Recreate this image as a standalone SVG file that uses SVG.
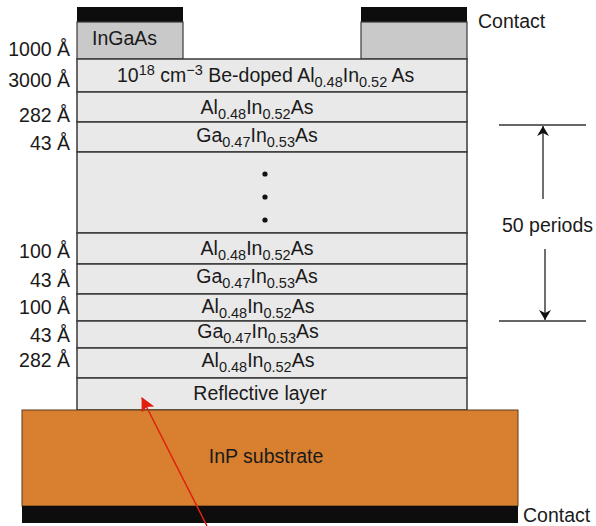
<svg xmlns="http://www.w3.org/2000/svg" width="596" height="526" viewBox="0 0 596 526">
<defs>
<style>
text{font-family:"Liberation Sans",Arial,sans-serif;font-size:19.5px;fill:#1a1a1a}
.lbl{text-anchor:end}
.mid{text-anchor:middle}
.sub{font-size:14.5px}
.layer{fill:#e9e9e9;stroke:#3a3a3a;stroke-width:1.5}
.cap{fill:#c9c9c9;stroke:#3a3a3a;stroke-width:1.2}
.metal{fill:#0d0d0d}
.dim{stroke:#333;stroke-width:1.4;fill:none}
</style>
<marker id="ah" viewBox="0 0 10 16" refX="10" refY="8" markerWidth="10" markerHeight="16" markerUnits="userSpaceOnUse" orient="auto">
<path d="M0,2 L10,8 L0,14 L3,8 Z" fill="#111"/>
</marker>
<marker id="rh" viewBox="0 0 14 14" refX="13" refY="7" markerWidth="14" markerHeight="14" markerUnits="userSpaceOnUse" orient="auto">
<path d="M0,0 L14,7 L0,14 L3,7 Z" fill="#e0200f"/>
</marker>
</defs>
<rect width="596" height="526" fill="#fff"/>

<g id="contact-left"><rect class="metal" x="77" y="7" width="106" height="15"/><rect class="cap" x="77" y="22" width="106" height="37"/><text x="92" y="45">InGaAs</text></g>
<g id="contact-right"><rect class="metal" x="361" y="7" width="106" height="15"/><rect class="cap" x="361" y="22" width="106" height="37"/><text x="478" y="28">Contact</text></g>

<g id="layer-bedoped"><rect class="layer" x="77" y="59" width="390" height="33"/><text x="117" y="82">10<tspan class="sub" dy="-7">18</tspan><tspan dy="7"> cm</tspan><tspan class="sub" dy="-7">−3</tspan><tspan dy="7"> Be-doped Al</tspan><tspan class="sub" dy="5">0.48</tspan><tspan dy="-5">In</tspan><tspan class="sub" dy="5">0.52</tspan><tspan dy="-5"> As</tspan></text></g>
<g id="layer-282a"><rect class="layer" x="77" y="92" width="390" height="30"/><text class="mid" x="257" y="114">Al<tspan class="sub" dy="5">0.48</tspan><tspan dy="-5">In</tspan><tspan class="sub" dy="5">0.52</tspan><tspan dy="-5">As</tspan></text></g>
<g id="layer-43a"><rect class="layer" x="77" y="122" width="390" height="30"/><text class="mid" x="257" y="142">Ga<tspan class="sub" dy="5">0.47</tspan><tspan dy="-5">In</tspan><tspan class="sub" dy="5">0.53</tspan><tspan dy="-5">As</tspan></text></g>
<g id="layer-periods"><rect class="layer" x="77" y="152" width="390" height="81"/><circle cx="265" cy="174" r="2.6" fill="#111"/><circle cx="265" cy="197" r="2.6" fill="#111"/><circle cx="265" cy="220" r="2.6" fill="#111"/></g>
<g id="layer-100a"><rect class="layer" x="77" y="233" width="390" height="31"/><text class="mid" x="257" y="255">Al<tspan class="sub" dy="5">0.48</tspan><tspan dy="-5">In</tspan><tspan class="sub" dy="5">0.52</tspan><tspan dy="-5">As</tspan></text></g>
<g id="layer-43b"><rect class="layer" x="77" y="264" width="390" height="30"/><text class="mid" x="257" y="283">Ga<tspan class="sub" dy="5">0.47</tspan><tspan dy="-5">In</tspan><tspan class="sub" dy="5">0.53</tspan><tspan dy="-5">As</tspan></text></g>
<g id="layer-100b"><rect class="layer" x="77" y="294" width="390" height="27"/><text class="mid" x="258" y="313">Al<tspan class="sub" dy="5">0.48</tspan><tspan dy="-5">In</tspan><tspan class="sub" dy="5">0.52</tspan><tspan dy="-5">As</tspan></text></g>
<g id="layer-43c"><rect class="layer" x="77" y="321" width="390" height="27"/><text class="mid" x="258" y="338">Ga<tspan class="sub" dy="5">0.47</tspan><tspan dy="-5">In</tspan><tspan class="sub" dy="5">0.53</tspan><tspan dy="-5">As</tspan></text></g>
<g id="layer-282b"><rect class="layer" x="77" y="348" width="390" height="30"/><text class="mid" x="258" y="367">Al<tspan class="sub" dy="5">0.48</tspan><tspan dy="-5">In</tspan><tspan class="sub" dy="5">0.52</tspan><tspan dy="-5">As</tspan></text></g>
<g id="layer-reflective"><rect class="layer" x="77" y="378" width="390" height="32"/><text class="mid" x="260" y="400">Reflective layer</text></g>
<g id="substrate"><rect x="22" y="410" width="496" height="96" fill="#d8802f" stroke="#5a3a1a" stroke-width="1"/><text class="mid" x="266" y="463">InP substrate</text></g>
<g id="contact-bottom"><rect class="metal" x="22" y="506" width="496" height="17"/><text x="523" y="522">Contact</text></g>

<g id="thickness-labels">
<text class="lbl" x="70" y="56">1000 Å</text>
<text class="lbl" x="70" y="87">3000 Å</text>
<text class="lbl" x="70" y="122">282 Å</text>
<text class="lbl" x="70" y="150">43 Å</text>
<text class="lbl" x="70" y="258">100 Å</text>
<text class="lbl" x="70" y="287">43 Å</text>
<text class="lbl" x="70" y="314">100 Å</text>
<text class="lbl" x="70" y="342">43 Å</text>
<text class="lbl" x="70" y="367">282 Å</text>
</g>

<g id="connectors">
<line class="dim" x1="499" y1="125" x2="586" y2="125"/>
<line class="dim" x1="499" y1="321" x2="586" y2="321"/>
<line class="dim" x1="543" y1="199" x2="543" y2="126" marker-end="url(#ah)"/>
<line class="dim" x1="545" y1="249" x2="545" y2="320" marker-end="url(#ah)"/>
<text x="502" y="232">50 periods</text>
<line x1="207" y1="526" x2="142" y2="398" stroke="#e0200f" stroke-width="1.5" marker-end="url(#rh)"/>
</g>
</svg>
